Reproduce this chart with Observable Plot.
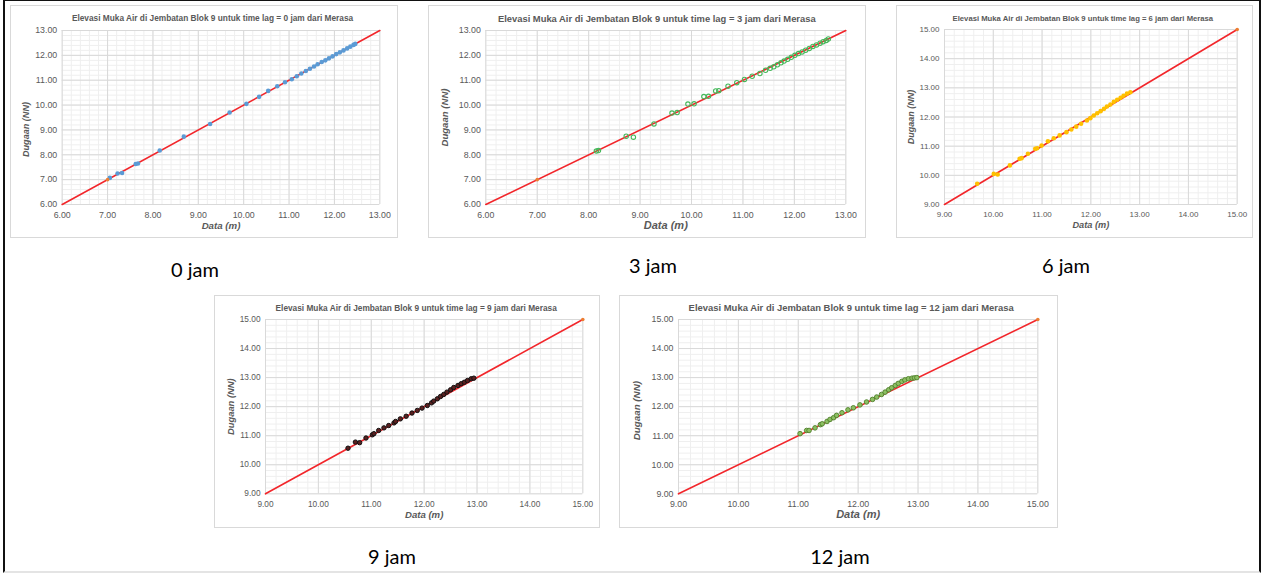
<!DOCTYPE html>
<html><head><meta charset="utf-8">
<script src="https://cdn.jsdelivr.net/npm/d3@7"></script>
<script src="https://cdn.jsdelivr.net/npm/@observablehq/plot@0.6"></script>
<style>
html,body{margin:0;padding:0;background:#fff;}
body{width:1262px;height:573px;overflow:hidden;position:relative;font-family:"Liberation Sans",Arial,sans-serif;}
.frame{position:absolute;left:3px;top:0;width:1258px;height:573px;box-sizing:border-box;border-left:2px solid #111;border-right:2px solid #111;border-top:1px solid #111;border-bottom:2px solid #e4e4e4;}
.panel{position:absolute;outline:1px solid #d9d9d9;background:#fff;}
.panel svg{position:absolute;left:0;top:0;}
.cap{position:absolute;font-family:Lato,"Open Sans",sans-serif;font-size:20px;color:#000;transform:translate(-50%,-50%);white-space:nowrap;}
</style>
</head><body>
<div class="frame"></div>
<script>
// ---- text ----
const titlePrefix = "Elevasi Muka Air di Jembatan Blok 9 untuk time lag = ";
const titleSuffix = " dari Merasa";
const lags = ["0 jam", "3 jam", "6 jam", "9 jam", "12 jam"];
const xLabel = "Data (m)";
const yLabel = "Dugaan (NN)";

// ---- axis ticks ----
const ticksLow = [6, 7, 8, 9, 10, 11, 12, 13];
const ticksHigh = [9, 10, 11, 12, 13, 14, 15];
const minorStep = 0.2;

// ---- reference (1:1) line ends ----
const lineLow = [6, 13];
const lineHigh = [9, 15];
const refPointLow = [7];
const refPointHigh = [15];

// ---- series: time lag 0 jam ----
const data0 = [7.05, 7.22, 7.32, 7.62, 7.67, 8.15, 8.68, 9.26, 9.69, 10.06, 10.34, 10.54, 10.74, 10.91, 11.06, 11.17, 11.27, 11.37, 11.46, 11.55, 11.63, 11.72, 11.80, 11.88, 11.96, 12.04, 12.12, 12.20, 12.28, 12.35, 12.42, 12.46];
const dug0  = [7.07, 7.25, 7.27, 7.63, 7.65, 8.17, 8.73, 9.24, 9.70, 10.05, 10.33, 10.57, 10.76, 10.92, 11.04, 11.16, 11.27, 11.37, 11.46, 11.55, 11.64, 11.73, 11.80, 11.88, 11.96, 12.05, 12.12, 12.20, 12.28, 12.35, 12.42, 12.46];

// ---- series: time lag 3 jam ----
const data3 = [8.15, 8.19, 8.73, 8.87, 9.27, 9.62, 9.72, 9.93, 10.05, 10.24, 10.33, 10.47, 10.53, 10.71, 10.88, 11.03, 11.18, 11.33, 11.44, 11.53, 11.60, 11.67, 11.74, 11.80, 11.87, 11.94, 12.01, 12.08, 12.15, 12.22, 12.29, 12.36, 12.43, 12.50, 12.56, 12.62, 12.66];
const dug3  = [8.15, 8.17, 8.75, 8.71, 9.24, 9.68, 9.70, 10.04, 10.05, 10.34, 10.35, 10.57, 10.58, 10.76, 10.90, 11.03, 11.16, 11.27, 11.40, 11.48, 11.54, 11.62, 11.70, 11.77, 11.84, 11.92, 12.00, 12.07, 12.14, 12.21, 12.28, 12.36, 12.42, 12.49, 12.55, 12.60, 12.66];

// ---- series: time lag 6 jam ----
const data6 = [9.67, 10.01, 10.09, 10.34, 10.54, 10.58, 10.71, 10.86, 10.90, 10.99, 11.12, 11.24, 11.36, 11.50, 11.60, 11.70, 11.80, 11.92, 11.99, 12.06, 12.13, 12.20, 12.27, 12.33, 12.40, 12.47, 12.54, 12.61, 12.67, 12.74, 12.81];
const dug6  = [9.71, 10.05, 10.03, 10.34, 10.57, 10.59, 10.74, 10.91, 10.93, 11.02, 11.17, 11.27, 11.37, 11.48, 11.57, 11.67, 11.77, 11.88, 11.96, 12.05, 12.13, 12.20, 12.28, 12.36, 12.43, 12.52, 12.59, 12.66, 12.73, 12.80, 12.85];

// ---- series: time lag 9 jam ----
const data9 = [10.56, 10.70, 10.78, 10.90, 11.02, 11.05, 11.14, 11.24, 11.33, 11.43, 11.46, 11.55, 11.66, 11.77, 11.87, 11.96, 12.06, 12.14, 12.18, 12.25, 12.31, 12.37, 12.43, 12.50, 12.56, 12.64, 12.70, 12.76, 12.82, 12.89, 12.94];
const dug9  = [10.57, 10.78, 10.76, 10.92, 11.03, 11.07, 11.18, 11.27, 11.35, 11.44, 11.49, 11.58, 11.67, 11.78, 11.87, 11.95, 12.04, 12.13, 12.19, 12.27, 12.35, 12.42, 12.50, 12.58, 12.66, 12.73, 12.79, 12.84, 12.90, 12.96, 12.98];

// ---- series: time lag 12 jam ----
const data12 = [11.03, 11.14, 11.18, 11.28, 11.37, 11.40, 11.48, 11.53, 11.59, 11.64, 11.73, 11.83, 11.92, 12.03, 12.14, 12.24, 12.31, 12.39, 12.45, 12.51, 12.56, 12.62, 12.67, 12.73, 12.78, 12.84, 12.90, 12.94, 12.98];
const dug12  = [11.07, 11.18, 11.18, 11.27, 11.38, 11.41, 11.49, 11.56, 11.62, 11.70, 11.79, 11.89, 11.96, 12.06, 12.16, 12.25, 12.33, 12.42, 12.50, 12.58, 12.65, 12.73, 12.80, 12.87, 12.92, 12.96, 12.98, 12.99, 13.00];

// ---- layout (positions / styles) ----
const panels = [
  {lag: lags[0], xs: data0, ys: dug0, ticks: ticksLow, line: lineLow, ref: refPointLow,
   left: 11, top: 6, w: 386, h: 231, ml: 50.7, mr: 17.7, mt: 24, mb: 33,
   titleFs: 8.3, titleDx: -8.5, titleDy: -11.7, tickFs: 8.8, xlabFs: 9.7, ylabFs: 9.1, ylabDx: -36, ylabDy: 12,
   dot: {fill: "#5b9bd5", stroke: "none", r: 2.3}},
  {lag: lags[1], xs: data3, ys: dug3, ticks: ticksLow, line: lineLow, ref: refPointLow,
   left: 429, top: 6, w: 436, h: 231, ml: 56.3, mr: 19.7, mt: 24, mb: 33,
   titleFs: 9.4, titleDx: -9, titleDy: -11.7, tickFs: 8.8, xlabFs: 11, ylabFs: 9.6, ylabDx: -40.6, ylabDy: 0,
   dot: {fill: "none", stroke: "#45b85a", strokeWidth: 1.1, r: 2.2}},
  {lag: lags[2], xs: data6, ys: dug6, ticks: ticksHigh, line: lineHigh, ref: refPointHigh,
   left: 897, top: 6, w: 355, h: 231, ml: 47, mr: 15.3, mt: 23, mb: 33,
   titleFs: 7.7, titleDx: -8, titleDy: -11.3, tickFs: 8, xlabFs: 9.2, ylabFs: 9, ylabDx: -33.3, ylabDy: 0,
   dot: {fill: "#ffc000", stroke: "none", r: 2.3}},
  {lag: lags[3], xs: data9, ys: dug9, ticks: ticksHigh, line: lineHigh, ref: refPointHigh,
   left: 215, top: 296, w: 384, h: 231, ml: 50, mr: 16.7, mt: 23, mb: 33.7,
   titleFs: 8.3, titleDx: -8, titleDy: -11.3, tickFs: 8.3, xlabFs: 9.6, ylabFs: 9.4, ylabDx: -35, ylabDy: 0,
   dot: {fill: "#5a2020", stroke: "#111", strokeWidth: 1, r: 2.2}},
  {lag: lags[4], xs: data12, ys: dug12, ticks: ticksHigh, line: lineHigh, ref: refPointHigh,
   left: 620, top: 296, w: 437, h: 231, ml: 58, mr: 19.7, mt: 23, mb: 33.7,
   titleFs: 9.45, titleDx: -7, titleDy: -11.3, tickFs: 8.8, xlabFs: 11, ylabFs: 9.8, ylabDx: -41.7, ylabDy: 4,
   dot: {fill: "#8cc063", stroke: "#4f7f2a", strokeWidth: 0.9, r: 2.3}}
];
const captionPos = [[195, 269], [653, 265], [1066, 265], [392, 556], [840, 556]];

const fmt = d3.format(".2f");
const grey = "#595959";

panels.forEach((p, i) => {
  const lo = p.ticks[0], hi = p.ticks[p.ticks.length - 1];
  const minor = d3.range(lo, hi + 1e-9, minorStep).map(v => +v.toFixed(2));
  const pts = p.xs.map((x, k) => ({x, y: p.ys[k]}));
  const lineData = p.line.map(v => ({x: v, y: v}));
  const refData = p.ref.map(v => ({x: v, y: v}));
  const chart = Plot.plot({
    width: p.w, height: p.h,
    marginLeft: p.ml, marginRight: p.mr, marginTop: p.mt, marginBottom: p.mb,
    style: {fontFamily: "'Liberation Sans', Arial, sans-serif", fontSize: p.tickFs + "px", color: grey, background: "transparent", overflow: "visible"},
    x: {domain: [lo, hi], ticks: p.ticks, tickFormat: fmt, tickSize: 0, tickPadding: 7, label: null},
    y: {domain: [lo, hi], ticks: p.ticks, tickFormat: fmt, tickSize: 0, tickPadding: 5, label: null},
    marks: [
      Plot.ruleX(minor, {stroke: "#efefef", strokeWidth: 1}),
      Plot.ruleY(minor, {stroke: "#efefef", strokeWidth: 1}),
      Plot.ruleX(p.ticks, {stroke: "#d9d9d9", strokeWidth: 1}),
      Plot.ruleY(p.ticks, {stroke: "#d9d9d9", strokeWidth: 1}),
      Plot.line(lineData, {x: "x", y: "y", stroke: "#f2262b", strokeWidth: 1.6}),
      Plot.dot(pts, {x: "x", y: "y", ...p.dot}),
      Plot.dot(refData, {x: "x", y: "y", fill: "#ed7d31", r: 1.8}),
      Plot.text([titlePrefix + p.lag + titleSuffix], {text: d => d, frameAnchor: "top", dx: p.titleDx, dy: p.titleDy, lineAnchor: "middle", fontWeight: "bold", fontSize: p.titleFs, fill: grey}),
      Plot.text([xLabel], {text: d => d, frameAnchor: "bottom", dy: 21, lineAnchor: "middle", fontWeight: "bold", fontStyle: "italic", fontSize: p.xlabFs, fill: grey}),
      Plot.text([yLabel], {text: d => d, frameAnchor: "left", dx: p.ylabDx, dy: p.ylabDy, rotate: -90, lineAnchor: "middle", textAnchor: "middle", fontWeight: "bold", fontStyle: "italic", fontSize: p.ylabFs, fill: grey})
    ]
  });
  const div = document.createElement("div");
  div.className = "panel";
  div.style.left = p.left + "px";
  div.style.top = p.top + "px";
  div.style.width = p.w + "px";
  div.style.height = p.h + "px";
  div.appendChild(chart);
  document.body.appendChild(div);

  const cap = document.createElement("div");
  cap.className = "cap";
  cap.textContent = p.lag;
  cap.style.left = captionPos[i][0] + "px";
  cap.style.top = captionPos[i][1] + "px";
  document.body.appendChild(cap);
});
</script>
</body></html>
